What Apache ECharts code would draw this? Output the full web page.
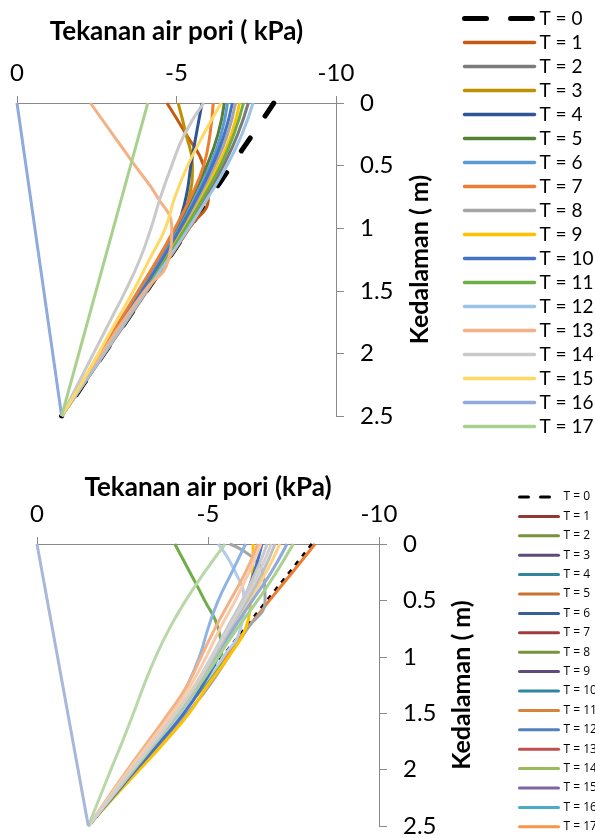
<!DOCTYPE html>
<html>
<head>
<meta charset="utf-8">
<script src="https://cdn.jsdelivr.net/npm/echarts@6/dist/echarts.min.js"></script>
<style>
html,body{margin:0;padding:0;background:#fff;}
#c{width:595px;height:838px;}
</style>
</head>
<body>
<div id="c"></div>
<script>
// ---------- shared ----------
const depths = [0, 0.25, 0.5, 0.75, 1, 1.25, 1.5, 1.75, 2, 2.25, 2.5];
const tLabels = ['T = 0','T = 1','T = 2','T = 3','T = 4','T = 5','T = 6','T = 7','T = 8','T = 9','T = 10','T = 11','T = 12','T = 13','T = 14','T = 15','T = 16','T = 17'];
const xTicks = [0, -5, -10];
const yTicks = [0, 0.5, 1, 1.5, 2, 2.5];

// ---------- top chart values (kPa) per depth ----------
const top0  = [-8.05, -7.39, -6.72, -6.06, -5.39, -4.73, -4.06, -3.40, -2.73, -2.07, -1.4];
const top1  = [-4.70, -5.30, -5.85, -6.00, -5.40, -4.75, -4.08, -3.42, -2.75, -2.08, -1.4];
const top2  = [-7.25, -6.92, -6.47, -5.92, -5.32, -4.69, -4.04, -3.39, -2.73, -2.07, -1.4];
const top3  = [-5.05, -5.30, -5.50, -5.40, -5.05, -4.50, -3.90, -3.28, -2.65, -2.03, -1.4];
const top4  = [-5.80, -5.62, -5.45, -5.30, -5.00, -4.45, -3.86, -3.25, -2.63, -2.02, -1.4];
const top5  = [-6.50, -6.30, -5.95, -5.50, -5.00, -4.45, -3.85, -3.25, -2.62, -2.01, -1.4];
const top6  = [-6.60, -6.40, -6.05, -5.60, -5.08, -4.50, -3.90, -3.28, -2.65, -2.03, -1.4];
const top7  = [-6.15, -6.05, -5.85, -5.45, -4.95, -4.40, -3.80, -3.20, -2.60, -2.00, -1.4];
const top8  = [-6.85, -6.60, -6.20, -5.72, -5.18, -4.60, -3.97, -3.33, -2.69, -2.05, -1.4];
const top9  = [-6.98, -6.72, -6.30, -5.80, -5.25, -4.63, -4.00, -3.36, -2.71, -2.06, -1.4];
const top10 = [-6.75, -6.50, -6.12, -5.65, -5.12, -4.55, -3.93, -3.30, -2.67, -2.04, -1.4];
const top11 = [-7.10, -6.80, -6.38, -5.85, -5.28, -4.66, -4.02, -3.37, -2.72, -2.06, -1.4];
const top12 = [-7.40, -7.05, -6.58, -6.00, -5.38, -4.73, -4.06, -3.40, -2.74, -2.07, -1.4];
const top13 = [-2.30, -3.00, -3.70, -4.40, -4.85, -4.75, -4.00, -3.30, -2.65, -2.00, -1.4];
const top14 = [-5.85, -5.25, -4.85, -4.50, -4.20, -3.85, -3.40, -2.90, -2.40, -1.90, -1.4];
const top15 = [-6.40, -5.85, -5.35, -4.95, -4.65, -4.15, -3.65, -3.10, -2.55, -2.00, -1.4];
const top16 = [0, -0.14, -0.28, -0.42, -0.56, -0.70, -0.84, -0.98, -1.12, -1.26, -1.4];
const top17 = [-4.10, -3.83, -3.56, -3.29, -3.02, -2.75, -2.48, -2.21, -1.94, -1.67, -1.4];

// ---------- bottom chart values (kPa) per depth ----------
const bot0  = [-8.04, -7.39, -6.73, -6.08, -5.42, -4.77, -4.12, -3.46, -2.81, -2.15, -1.5];
const bot1  = [-8.13, -7.47, -6.80, -6.14, -5.50, -4.90, -4.25, -3.55, -2.85, -2.17, -1.5];
const bot2  = [-5.64, -6.60, -6.67, -6.15, -5.60, -5.05, -4.40, -3.68, -2.93, -2.20, -1.5];
const bot3  = [-4.03, -4.47, -4.90, -5.30, -5.40, -4.90, -4.25, -3.58, -2.90, -2.20, -1.5];
const bot4  = [-5.30, -5.80, -6.05, -5.95, -5.45, -4.85, -4.20, -3.55, -2.87, -2.18, -1.5];
const bot5  = [-6.10, -5.70, -5.30, -5.00, -4.75, -4.40, -3.95, -3.35, -2.75, -2.12, -1.5];
const bot6  = [-6.32, -6.30, -6.25, -6.10, -5.60, -5.00, -4.45, -3.75, -3.00, -2.24, -1.5];
const bot7  = [-6.58, -6.35, -6.05, -5.70, -5.30, -4.85, -4.30, -3.62, -2.90, -2.20, -1.5];
const bot8  = [-6.46, -6.10, -5.65, -5.20, -4.80, -4.40, -3.85, -3.25, -2.65, -2.07, -1.5];
const bot9  = [-6.73, -6.40, -6.00, -5.55, -5.10, -4.62, -4.05, -3.42, -2.77, -2.14, -1.5];
const bot10 = [-7.10, -6.70, -6.20, -5.65, -5.15, -4.62, -4.05, -3.42, -2.77, -2.14, -1.5];
const bot11 = [-7.31, -6.85, -6.30, -5.75, -5.25, -4.72, -4.12, -3.48, -2.82, -2.16, -1.5];
const bot12 = [-7.49, -7.00, -6.45, -5.85, -5.30, -4.75, -4.15, -3.50, -2.84, -2.17, -1.5];
const bot13 = [-6.96, -6.60, -6.15, -5.65, -5.18, -4.68, -4.10, -3.46, -2.80, -2.15, -1.5];
const bot14 = [-6.55, -6.20, -5.80, -5.35, -4.95, -4.50, -3.95, -3.33, -2.70, -2.10, -1.5];
const bot15 = [-6.85, -6.50, -6.08, -5.60, -5.12, -4.64, -4.07, -3.44, -2.78, -2.14, -1.5];
const bot16 = [-5.50, -4.90, -4.35, -3.87, -3.47, -3.13, -2.82, -2.50, -2.16, -1.83, -1.5];
const bot17 = [0, -0.15, -0.30, -0.45, -0.60, -0.75, -0.90, -1.05, -1.20, -1.35, -1.5];

// ---------- styles ----------
const topColors = ['#000000','#C55A11','#7B7B7B','#BF9000','#2F5597','#548235','#5B9BD5','#ED7D31','#A5A5A5','#FFC000','#4472C4','#70AD47','#9DC3E6','#F4B183','#C9C9C9','#FFD966','#8FAADC','#A9D18E'];
const botLineColors = ['#000000','#ED7D31','#A5A5A5','#70AD47','#B4CCEA','#8DB4E2','#FFC000','#4472C4','#F4B183','#C9C9C9','#FFD27F','#8FAADC','#A9D18E','#BFBFBF','#F8CBAD','#D0D0D0','#B9D7A8','#A9B7DD'];
const botLegendColors = ['#000000','#953735','#77933C','#604A7B','#31859C','#C8732E','#376092','#A33B3B','#77933C','#604A7B','#31859C','#D9823B','#4F81BD','#C0504D','#9BBB59','#8064A2','#4BACC6','#F79646'];

const topData = [top0,top1,top2,top3,top4,top5,top6,top7,top8,top9,top10,top11,top12,top13,top14,top15,top16,top17];
const botData = [bot0,bot1,bot2,bot3,bot4,bot5,bot6,bot7,bot8,bot9,bot10,bot11,bot12,bot13,bot14,bot15,bot16,bot17];

const FONT = 'Lato, "Open Sans", sans-serif';
const axisColor = '#898989';

function toPts(vals){ return vals.map((v,i)=>[v, depths[i]]); }

const series = [];
topData.forEach((vals,i)=>{
  series.push({
    name: tLabels[i], type:'line', xAxisIndex:0, yAxisIndex:0,
    data: toPts(vals), symbol:'none', smooth:0.5,
    lineStyle: i===0 ? {color:'#000', width:5, type:[16,26], cap:'round'} : {color:topColors[i], width:3},
    itemStyle:{color: topColors[i]}, z: 2, silent:true
  });
});
botData.forEach((vals,i)=>{
  series.push({
    name: 'b' + i, type:'line', xAxisIndex:1, yAxisIndex:1,
    data: toPts(vals), symbol:'none', smooth:0.5,
    lineStyle: i===0 ? {color:'#000', width:3, type:[5,6], cap:'butt'} : {color:botLineColors[i], width:3},
    itemStyle:{color: botLineColors[i]}, z: 2, silent:true
  });
});

function xAxisCfg(idx, name, gap, margin){
  return {
    gridIndex: idx, type:'value', min:-10, max:0, interval:5, inverse:true, position:'top',
    name: name, nameLocation:'middle', nameGap: gap,
    nameTextStyle:{fontFamily:FONT, fontWeight:'bold', fontSize:26, color:'#000'},
    axisLine:{show:true, onZero:false, lineStyle:{color:axisColor, width:1}},
    axisTick:{show:true, length:7, lineStyle:{color:axisColor}},
    axisLabel:{show:true, margin: margin, fontFamily:FONT, fontSize:24, color:'#000',
      formatter: v => xTicks.indexOf(v) >= 0 ? String(v) : ''},
    splitLine:{show:false}
  };
}
function yAxisCfg(idx, gap){
  return {
    gridIndex: idx, type:'value', min:0, max:2.5, interval:0.5, inverse:true, position:'right',
    name:'Kedalaman ( m)', nameLocation:'middle', nameGap: gap, nameRotate:90,
    nameTextStyle:{fontFamily:FONT, fontWeight:'bold', fontSize:25, color:'#000'},
    axisLine:{show:true, onZero:false, lineStyle:{color:axisColor, width:1}},
    axisTick:{show:true, length:8, lineStyle:{color:axisColor}},
    axisLabel:{show:true, margin:24, fontFamily:FONT, fontSize:24, color:'#000',
      formatter: v => yTicks.indexOf(v) >= 0 ? String(v) : ''},
    splitLine:{show:false}
  };
}

const option = {
  animation:false,
  backgroundColor:'#fff',
  grid:[
    {left:17, top:103, width:319, height:313},
    {left:37, top:544, width:342, height:285}
  ],
  xAxis:[ xAxisCfg(0,'Tekanan air pori ( kPa)', 58, 18), xAxisCfg(1,'Tekanan air pori (kPa)', 37, 18) ],
  yAxis:[ yAxisCfg(0, 71), yAxisCfg(1, 70) ],
  legend:[
    {
      orient:'vertical', left:462, top:9, padding:0,
      itemWidth:70, itemHeight:14, itemGap:5, selectedMode:false,
      textStyle:{fontFamily:FONT, fontSize:19, color:'#000'},
      data: tLabels.map((n,i)=>({
        name:n,
        lineStyle: i===0 ? {color:'#000', width:5, type:[22,24], cap:'round'} : {color:topColors[i], width:3.5, type:'solid', cap:'round'},
        itemStyle:{color:topColors[i], opacity:0}
      }))
    },
    {
      orient:'vertical', left:518, top:491, padding:0,
      itemWidth:39, itemHeight:11, itemGap:7.4, selectedMode:false,
      textStyle:{fontFamily:'"Liberation Sans Narrow", "Open Sans", sans-serif', fontSize:12, color:'#000'},
      formatter: name => tLabels[parseInt(name.slice(1),10)],
      data: tLabels.map((n,i)=>({
        name:'b'+i,
        lineStyle: i===0 ? {color:'#000', width:3, type:[9,12], cap:'round'} : {color:botLegendColors[i], width:3, type:'solid', cap:'round'},
        itemStyle:{color:botLegendColors[i], opacity:0}
      }))
    }
  ],
  series: series
};

const chart = echarts.init(document.getElementById('c'), null, {renderer:'canvas'});
chart.setOption(option);
</script>
</body>
</html>
